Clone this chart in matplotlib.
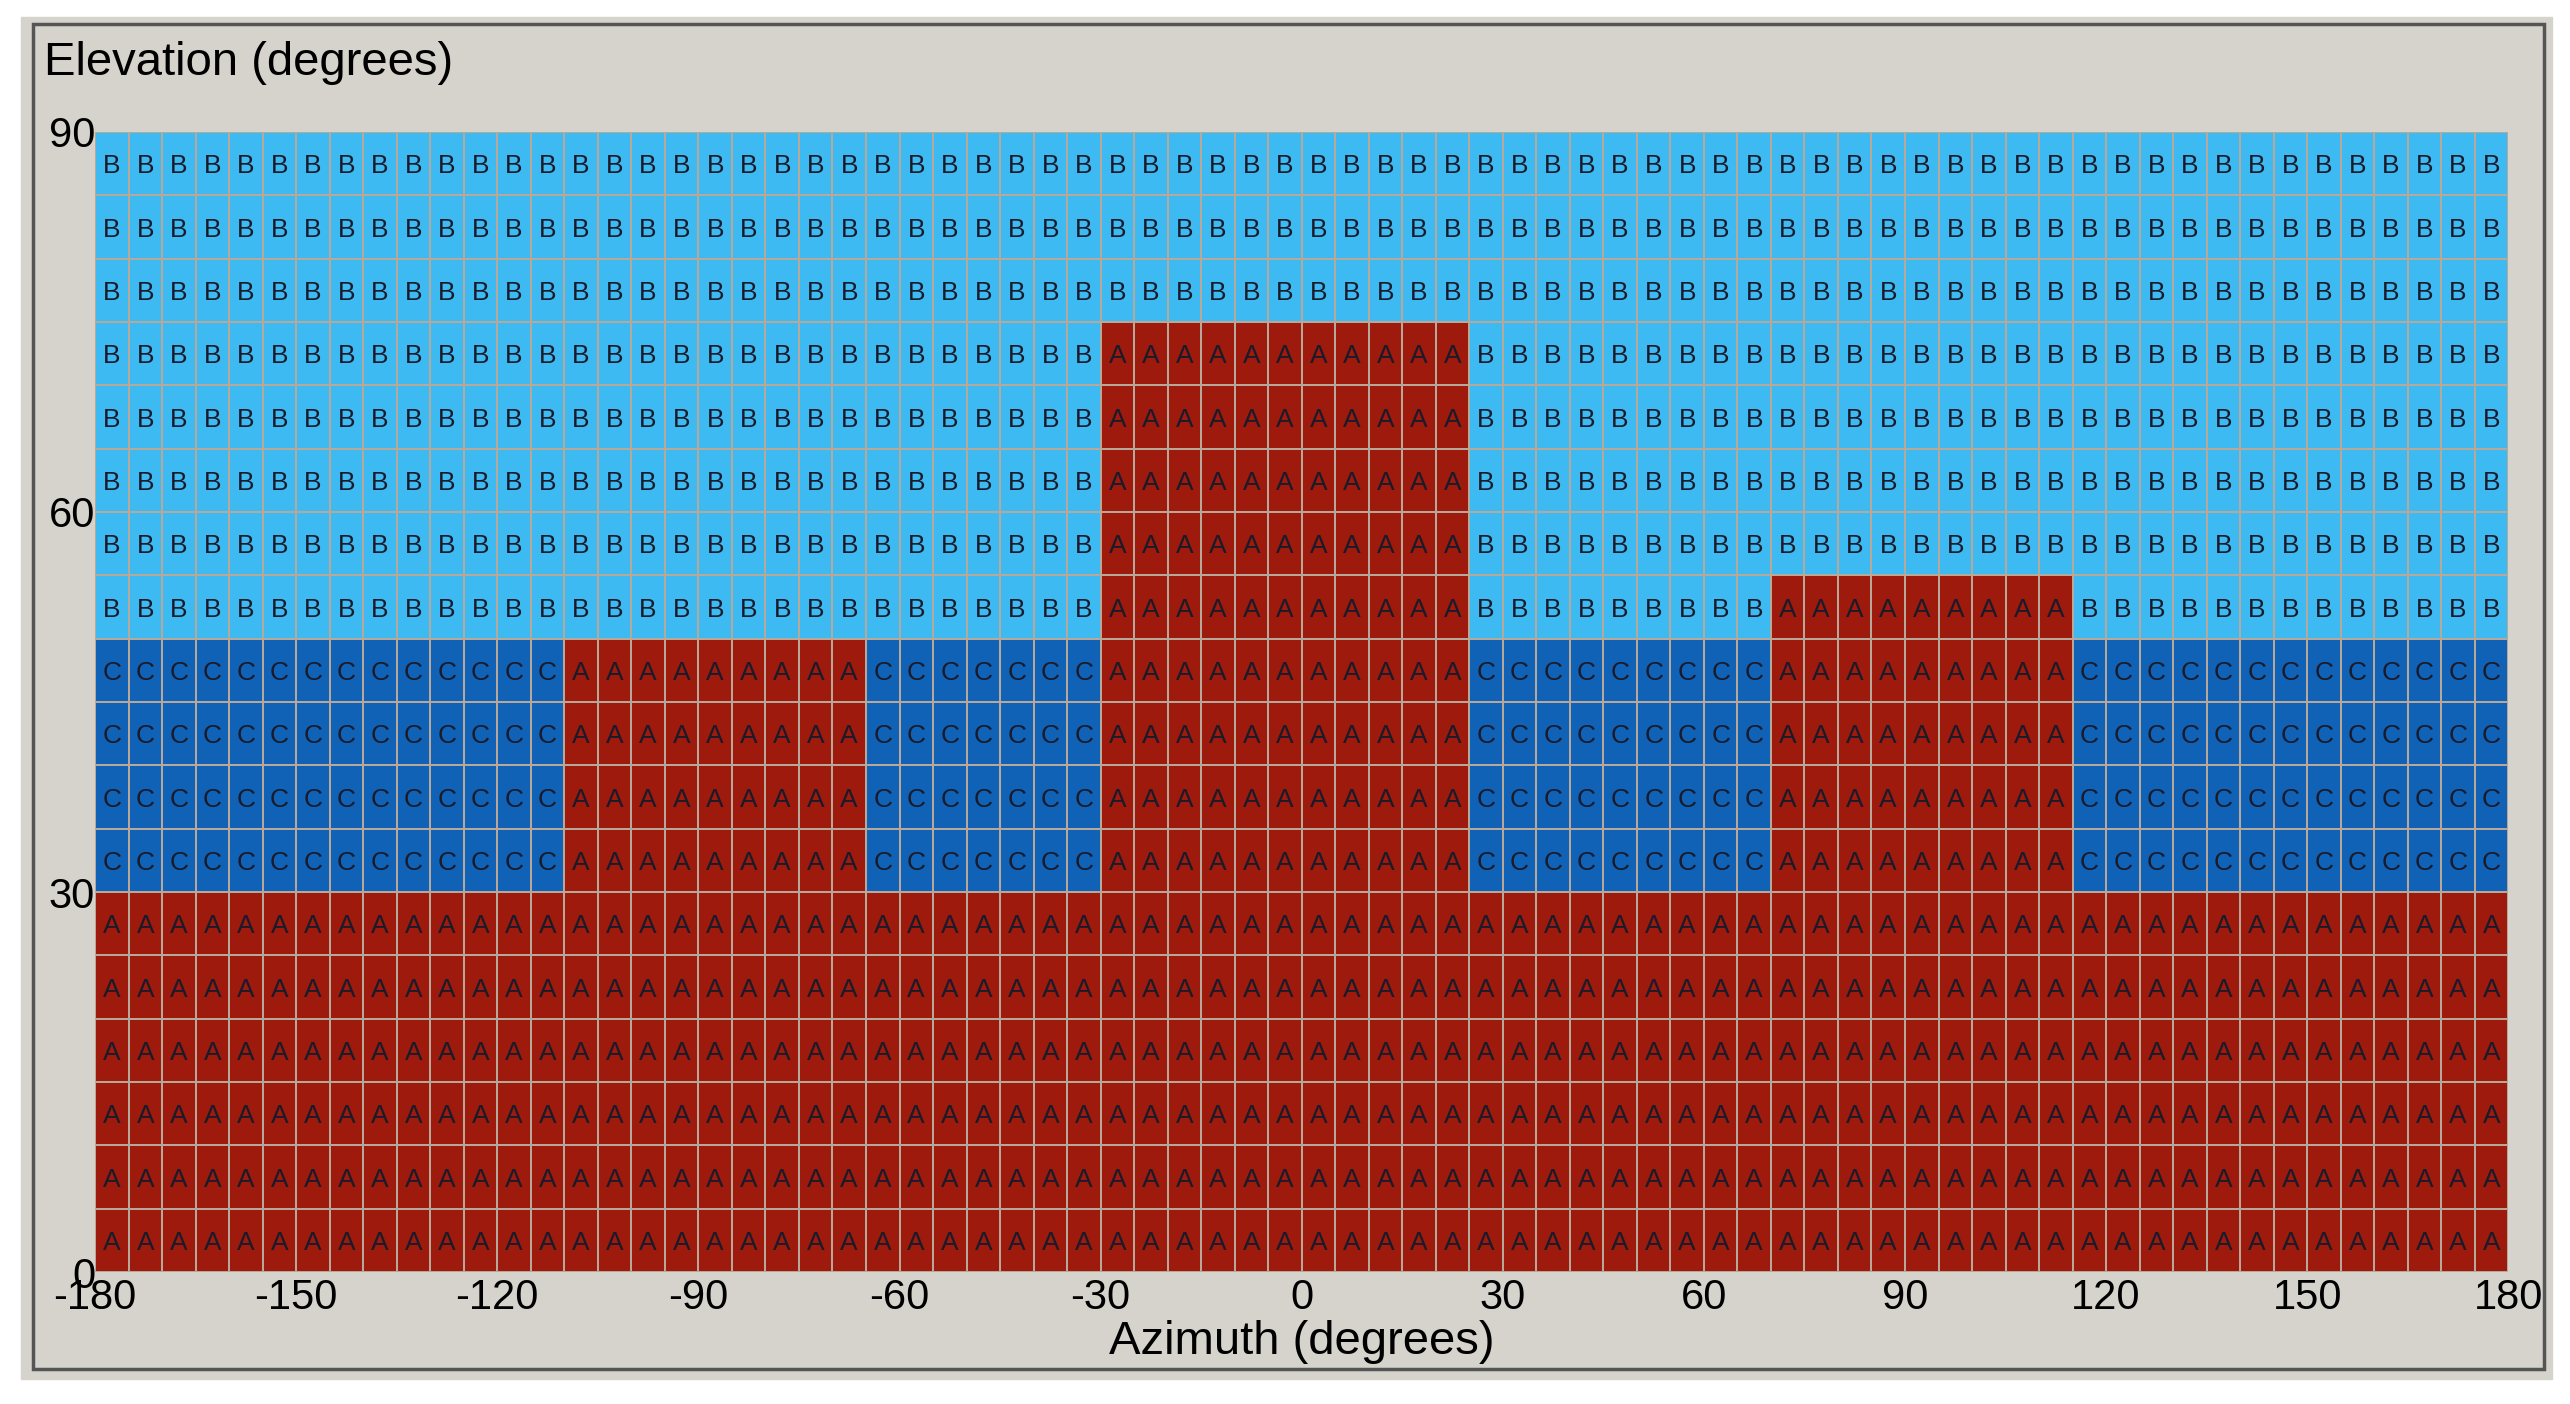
import matplotlib
matplotlib.use("Agg")
import matplotlib.pyplot as plt
from matplotlib.colors import ListedColormap
from matplotlib.patches import Rectangle
import numpy as np

plt.rcParams['font.family'] = ['Liberation Sans', 'DejaVu Sans']

az_edges = np.arange(-180, 181, 5)
el_edges = np.arange(0, 91, 5)
# zone boundaries (degrees)
zone_c_range = (30, 50)      # C zone elevation band
zone_a_base = 30             # A below this elevation everywhere
# A blocks: (az_min, az_max, el_max) extending from 30 upward
a_blocks = [(-110, -65, 50), (-30, 25, 75), (70, 115, 55)]
xticks = [-180, -150, -120, -90, -60, -30, 0, 30, 60, 90, 120, 150, 180]
yticks = [0, 30, 60, 90]
letters = ['A', 'B', 'C']
colors = ['#9E1A0C', '#3DBAF2', '#0F62B5']

nx, ny = len(az_edges) - 1, len(el_edges) - 1
grid = np.ones((ny, nx), dtype=int)
for j in range(ny):
    el = el_edges[j]
    for i in range(nx):
        az = az_edges[i]
        code = 1
        if el < zone_a_base:
            code = 0
        elif zone_c_range[0] <= el < zone_c_range[1]:
            code = 2
        for a0, a1, e1 in a_blocks:
            if a0 <= az < a1 and zone_a_base <= el < e1:
                code = 0
        grid[j, i] = code

fig = plt.figure(figsize=(25.7, 14.04), dpi=100)
fig.patch.set_facecolor('white')
fig.patches.append(Rectangle((0.008, 0.018), 0.985, 0.97, transform=fig.transFigure,
                             facecolor='#D6D3CC', edgecolor='#D6D3CC', zorder=0))
fig.patches.append(Rectangle((0.013, 0.025), 0.977, 0.958, transform=fig.transFigure,
                             facecolor='none', edgecolor='#555555', lw=2.5, zorder=1))

ax = fig.add_axes([0.037, 0.094, 0.939, 0.812])
ax.set_zorder(5)
ax.patch.set_alpha(0)
ax.pcolormesh(az_edges, el_edges, grid, cmap=ListedColormap(colors), vmin=-0.5, vmax=2.5,
              edgecolors='#B8A89A', linewidth=1.2)
for j in range(ny):
    for i in range(nx):
        ax.text((az_edges[i] + az_edges[i + 1]) / 2, (el_edges[j] + el_edges[j + 1]) / 2 - 0.2,
                letters[grid[j, i]], ha='center', va='center', fontsize=19, color='#1A1A2A')
ax.set_xlim(-180, 180)
ax.set_ylim(0, 90)
ax.set_xticks(xticks)
ax.set_xticklabels([str(t) for t in xticks], fontsize=30)
ax.set_yticks(yticks)
ax.set_yticklabels([str(t) for t in yticks], fontsize=30)
ax.tick_params(length=0, pad=4)
ax.tick_params(axis='y', pad=0)
for s in ax.spines.values():
    s.set_visible(False)
ax.set_xlabel('Azimuth (degrees)', fontsize=34, labelpad=2)
fig.text(0.017, 0.955, 'Elevation (degrees)', fontsize=34, va='center', ha='left', zorder=6)
fig.savefig('out.png', dpi=100, facecolor='white')
